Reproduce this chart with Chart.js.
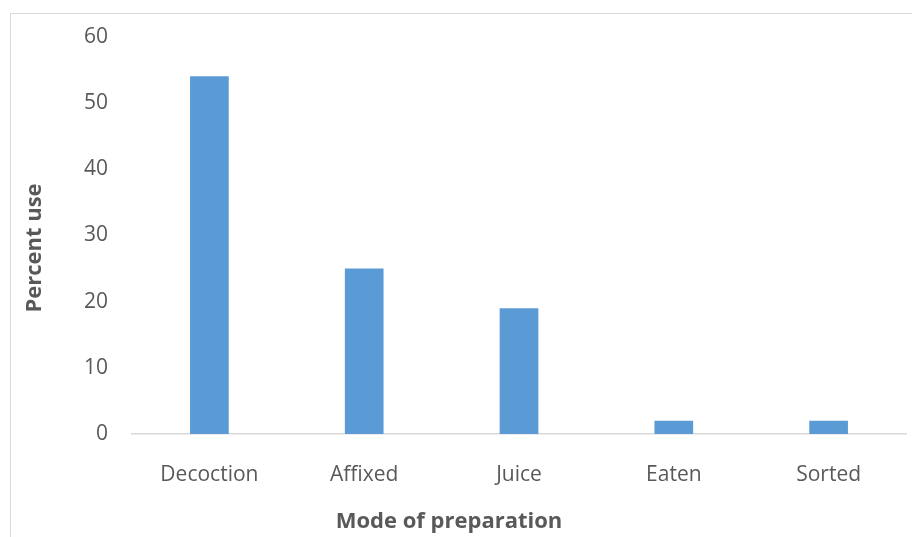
<!DOCTYPE html>
<html>
<head>
<meta charset="utf-8">
<script src="https://cdn.jsdelivr.net/npm/chart.js@4/dist/chart.umd.min.js"></script>
<style>
  html, body { margin: 0; padding: 0; background: #fff; overflow: hidden; }
  #wrap { position: relative; width: 912px; height: 537px; }
  #frame { position: absolute; left: 10px; top: 13px; width: 920px; height: 560px;
           border: 1px solid #d9d9d9; box-sizing: border-box; pointer-events: none; }
  canvas { position: absolute; left: 0; top: 0; }
</style>
</head>
<body>
<div id="wrap">
  <canvas id="c" width="912" height="537"></canvas>
  <div id="frame"></div>
</div>
<script>
// Modes of preparation and their share of use (%)
const categories = ["Decoction", "Affixed", "Juice", "Eaten", "Sorted"];
const percentUse = [54, 25, 19, 2, 2];
const yTicks = [0, 10, 20, 30, 40, 50, 60];
const xTitle = "Mode of preparation";
const yTitle = "Percent use";

const FONT = "'Open Sans', 'Liberation Sans', sans-serif";
const TEXT = "#595959";

// Axis titles placed relative to the whole frame rather than the plot area
const axisTitles = {
  id: "axisTitles",
  afterDraw(chart) {
    const ctx = chart.ctx;
    ctx.save();
    ctx.fillStyle = TEXT;
    ctx.font = "bold 22px " + FONT;
    ctx.textAlign = "center";
    ctx.textBaseline = "middle";
    ctx.fillText(xTitle, 449, 522);
    ctx.translate(35, 248);
    ctx.rotate(-Math.PI / 2);
    ctx.fillText(yTitle, 0, 0);
    ctx.restore();
  }
};

new Chart(document.getElementById("c"), {
  type: "bar",
  data: {
    labels: categories,
    datasets: [{
      data: percentUse,
      backgroundColor: "#5b9bd5",
      borderWidth: 0,
      categoryPercentage: 1,
      barPercentage: 0.25
    }]
  },
  options: {
    responsive: false,
    animation: false,
    events: [],
    layout: { padding: { left: 0, right: 6, top: 34, bottom: 0 } },
    plugins: { legend: { display: false }, tooltip: { enabled: false } },
    scales: {
      x: {
        grid: { display: false, drawTicks: false },
        border: { display: true, color: "#d9d9d9", width: 1.5 },
        ticks: { color: TEXT, font: { family: FONT, size: 21 }, padding: 28, maxRotation: 0 },
        afterFit(scale) { scale.height = 103; }
      },
      y: {
        min: 0, max: 60,
        grid: { display: false, drawTicks: false },
        border: { display: false },
        afterBuildTicks(scale) { scale.ticks = yTicks.map(v => ({ value: v })); },
        ticks: { color: TEXT, font: { family: FONT, size: 21 }, padding: 24 },
        afterFit(scale) { scale.width = 132; }
      }
    }
  },
  plugins: [axisTitles]
});
</script>
</body>
</html>
